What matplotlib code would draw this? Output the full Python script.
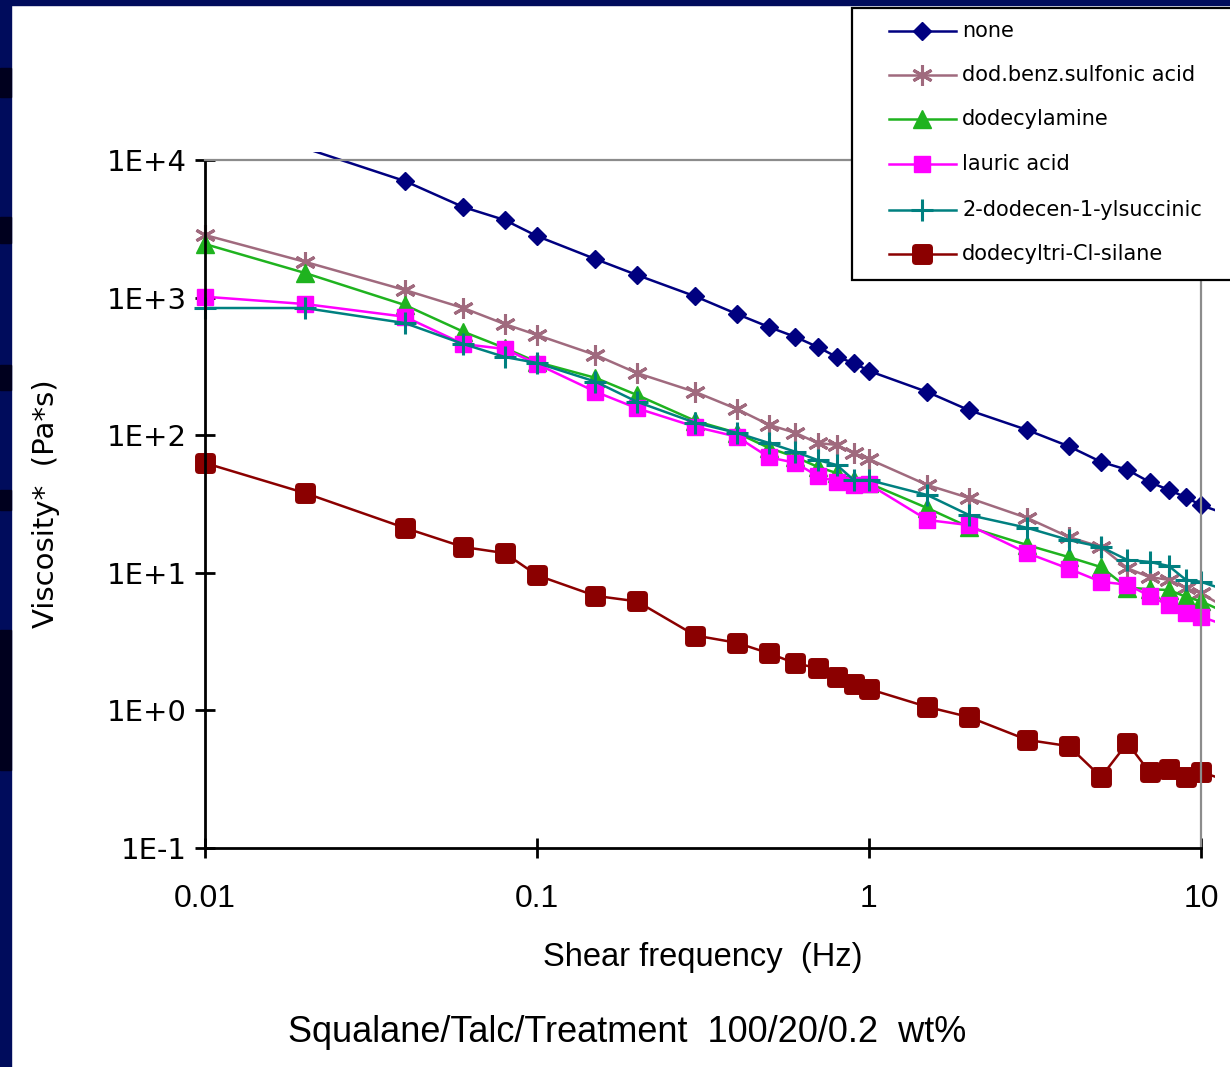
import numpy as np
import matplotlib
matplotlib.use("Agg")
import matplotlib.pyplot as plt
from matplotlib.patches import Rectangle
from matplotlib.lines import Line2D
from matplotlib.markers import MarkerStyle

W, H = 1230, 1067

# shear frequency (Hz)
freq = [0.01, 0.02, 0.04, 0.06, 0.08, 0.1, 0.15, 0.2, 0.3, 0.4, 0.5, 0.6, 0.7,
        0.8, 0.9, 1, 1.5, 2, 3, 4, 5, 6, 7, 8, 9, 10, 15]

# complex viscosity (Pa*s) per treatment
none = [21000, 12200, 7030, 4550, 3660, 2800, 1905, 1460, 1020, 760, 611, 518,
        438, 370, 335, 293, 206, 152, 109, 83, 64, 56, 45.7, 40, 35.4, 31, 22]
dodbenz = [2850, 1820, 1135, 840, 642, 535, 383, 283, 206, 155, 119, 104, 87.7,
           85, 74, 67, 43.4, 35, 25, 18.2, 15.4, 10.8, 9.3, 8.9, 7.76, 7.1, 4.0]
dodecylamine = [2450, 1510, 883, 565, 430, 340, 261, 196, 127, 104, 80.7, 69.5,
                58.9, 53, 47.2, 44.7, 29.5, 21.5, 15.9, 13, 11, 7.8, 7.6, 7.5,
                6.7, 6.2, 4.0]
lauric = [1015, 898, 726, 460, 423, 329, 207, 157, 115, 97.5, 69, 63, 50.5, 45.9,
          43.4, 44, 24.2, 22.2, 13.9, 10.7, 8.6, 8.2, 6.8, 5.8, 5.1, 4.8, 3.4]
succinic = [840, 840, 653, 460, 370, 335, 245, 175, 123, 104, 87.7, 75.8, 66,
            60.7, 47.2, 47.2, 36.7, 26.3, 21.2, 17.3, 15.4, 12.4, 12, 11.2, 8.9,
            8.6, 6.2]
silane = [62.8, 38, 21.2, 15.4, 13.9, 9.6, 6.8, 6.2, 3.5, 3.1, 2.6, 2.2, 2.03,
          1.75, 1.56, 1.43, 1.06, 0.895, 0.61, 0.55, 0.328, 0.58, 0.356, 0.375,
          0.328, 0.356, 0.26]

labels = ["none", "dod.benz.sulfonic acid", "dodecylamine", "lauric acid",
          "2-dodecen-1-ylsuccinic", "dodecyltri-Cl-silane"]

xticks = [0.01, 0.1, 1, 10]
xtick_labels = ["0.01", "0.1", "1", "10"]
yticks = [0.1, 1, 10, 100, 1000, 10000]
ytick_labels = ["1E-1", "1E+0", "1E+1", "1E+2", "1E+3", "1E+4"]

styles = [
    dict(color="#000080", marker="D", ms=9, mew=1),
    dict(color="#a06a7e", marker=(6, 2, 0), ms=15, mew=2.2),
    dict(color="#1fb31f", marker="^", ms=13, mew=1),
    dict(color="#ff00ff", marker="s", ms=12, mew=1),
    dict(color="#008080", marker="+", ms=16, mew=2.2),
    dict(color="#8b0000", marker=MarkerStyle("s", joinstyle="round"), ms=9.5, mew=5),
]
series = [none, dodbenz, dodecylamine, lauric, succinic, silane]


def fx(px):
    return px / W


def fy(py):
    return 1 - py / H


fig = plt.figure(figsize=(W / 100, H / 100), dpi=100)
fig.patch.set_facecolor("white")

# slide background strips
fig.add_artist(Rectangle((0, fy(5)), 1, 5 / H, transform=fig.transFigure,
                         color="#000c5c", zorder=0))
fig.add_artist(Rectangle((0, 0), fx(11), 1, transform=fig.transFigure,
                         color="#000c5c", zorder=0))
for top, bot in [(68, 97), (217, 243), (365, 390), (490, 510), (630, 770)]:
    fig.add_artist(Rectangle((0, fy(bot)), fx(11), (bot - top) / H,
                             transform=fig.transFigure, color="#00001e", zorder=0))

ax = fig.add_axes([fx(205), fy(848), fx(1201) - fx(205), (848 - 160) / H])
ax.set_xscale("log")
ax.set_yscale("log")
ax.set_xlim(0.01, 10)
ax.set_ylim(0.1, 1e4)

# plot area a bit larger than the axes, like the spreadsheet chart
clip = Rectangle((-14 / 996, -14 / 688), 1 + 28 / 996, 1 + 22 / 688,
                 transform=ax.transAxes, facecolor="none", edgecolor="none")
ax.add_patch(clip)

f = np.array(freq)
for vals, st in zip(series, styles):
    v = np.array(vals)
    inside = list((f >= 0.01) & (f <= 10) & (v >= 0.1) & (v <= 1e4))
    ln, = ax.plot(f, v, color=st["color"], lw=1.8, marker=st["marker"],
                  ms=st["ms"], mew=st["mew"], mec=st["color"], mfc=st["color"],
                  markevery=inside, clip_on=True)
    ln.set_clip_path(clip)

ax.minorticks_off()
ax.set_xticks(xticks)
ax.set_xticklabels(xtick_labels, fontfamily="Liberation Sans", fontsize=23)
ax.set_yticks(yticks)
ax.set_yticklabels(ytick_labels, fontfamily="DejaVu Sans", fontsize=21)
ax.tick_params(axis="both", which="major", direction="inout", length=14,
               width=2, color="black")
ax.tick_params(axis="x", pad=19)
ax.tick_params(axis="y", pad=6)

for side in ["left", "bottom"]:
    ax.spines[side].set_color("black")
    ax.spines[side].set_linewidth(2)
for side in ["top", "right"]:
    ax.spines[side].set_color("#8c8c8c")
    ax.spines[side].set_linewidth(1.6)

ax.set_xlabel("Shear frequency  (Hz)", fontfamily="Liberation Sans",
              fontsize=23.5, labelpad=20)
ax.set_ylabel("Viscosity*  (Pa*s)", fontfamily="DejaVu Sans", fontsize=21,
              labelpad=34)

fig.text(fx(627), fy(1033), "Squalane/Talc/Treatment  100/20/0.2  wt%",
         fontfamily="Liberation Sans", fontsize=26, ha="center", va="center")

# legend box, drawn by hand to sit where the original one is
fig.add_artist(Rectangle((fx(852), fy(280)), fx(1240) - fx(852), (280 - 8) / H,
                         transform=fig.transFigure, facecolor="white",
                         edgecolor="black", lw=1.6, zorder=5))
rows = [31, 75, 119, 164, 210, 254]
for lab, st, ry in zip(labels, styles, rows):
    fig.add_artist(Line2D([fx(889), fx(956)], [fy(ry), fy(ry)],
                          transform=fig.transFigure, color=st["color"], lw=1.8,
                          zorder=6))
    fig.add_artist(Line2D([fx(922)], [fy(ry)], transform=fig.transFigure,
                          linestyle="none", marker=st["marker"], ms=st["ms"],
                          mew=st["mew"], mec=st["color"], mfc=st["color"],
                          zorder=7))
    fig.text(fx(962), fy(ry), lab, fontfamily="DejaVu Sans", fontsize=15,
             va="center", ha="left", zorder=8)

fig.savefig("out.png", dpi=100, facecolor="white")
